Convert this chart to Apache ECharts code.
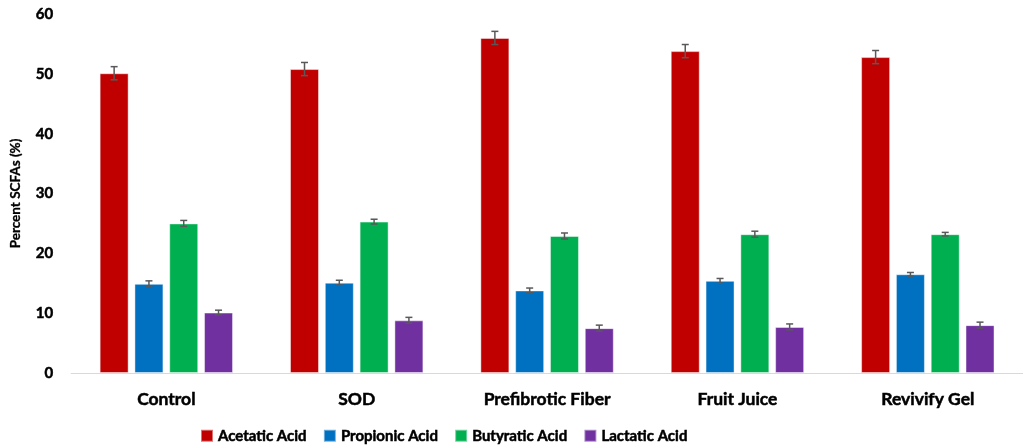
<!DOCTYPE html>
<html>
<head>
<meta charset="utf-8">
<script src="https://cdn.jsdelivr.net/npm/echarts@6/dist/echarts.min.js"></script>
<style>
  html, body { margin: 0; padding: 0; background: #fff; }
  #chart { width: 1023px; height: 445px; }
</style>
</head>
<body>
<div id="chart"></div>
<script>
// Short-chain fatty acid composition per treatment (mean ± error)
const categories = ['Control', 'SOD', 'Prefibrotic Fiber', 'Fruit Juice', 'Revivify Gel'];
const seriesNames = ['Acetatic Acid', 'Propionic Acid', 'Butyratic Acid', 'Lactatic Acid'];

const acetatic   = [50.1, 50.8, 56.0, 53.8, 52.8];
const propionic  = [14.9, 15.1, 13.8, 15.4, 16.5];
const butyratic  = [25.0, 25.3, 22.9, 23.2, 23.2];
const lactatic   = [10.1, 8.8, 7.5, 7.7, 8.0];

const acetaticErr  = [1.1, 1.1, 1.1, 1.1, 1.1];
const propionicErr = [0.5, 0.4, 0.4, 0.4, 0.3];
const butyraticErr = [0.5, 0.4, 0.5, 0.5, 0.3];
const lactaticErr  = [0.4, 0.5, 0.5, 0.5, 0.5];

const yTicks = { min: 0, max: 60, interval: 10 };

const colors = ['#C00000', '#0070C0', '#00B050', '#7030A0'];
const values = [acetatic, propionic, butyratic, lactatic];
const errors = [acetaticErr, propionicErr, butyraticErr, lactaticErr];

const BAR_WIDTH = 29;
const BAR_GAP = '20%';
const FONT = 'Lato, "Open Sans", sans-serif';

// heavy bold text helper
function heavy(size) {
  return {
    fontFamily: FONT, fontSize: size, fontWeight: 'bold', color: '#000',
    textBorderColor: '#000', textBorderWidth: 0.5
  };
}

const chart = echarts.init(document.getElementById('chart'), null, { renderer: 'canvas' });

const barSeries = seriesNames.map((name, k) => ({
  name,
  type: 'bar',
  data: values[k],
  barWidth: BAR_WIDTH,
  barGap: BAR_GAP,
  itemStyle: {
    color: colors[k],
    borderColor: 'rgba(255,255,255,0.45)',
    borderWidth: 1
  },
  emphasis: { disabled: true },
  z: 2
}));

const errorSeries = seriesNames.map((name, k) => ({
  name: name + ' error',
  type: 'custom',
  data: values[k].map((v, i) => [i, v - errors[k][i], v + errors[k][i]]),
  z: 5,
  silent: true,
  renderItem: function (params, api) {
    const i = api.value(0);
    const lo = api.coord([i, api.value(1)]);
    const hi = api.coord([i, api.value(2)]);
    const layout = api.barLayout({ count: seriesNames.length, barWidth: BAR_WIDTH, barGap: BAR_GAP });
    const x = lo[0] + layout[k].offsetCenter;
    const half = 3.5;
    const style = { stroke: '#595959', lineWidth: 1.5 };
    return {
      type: 'group',
      children: [
        { type: 'line', shape: { x1: x, y1: lo[1], x2: x, y2: hi[1] }, style },
        { type: 'line', shape: { x1: x - half, y1: lo[1], x2: x + half, y2: lo[1] }, style },
        { type: 'line', shape: { x1: x - half, y1: hi[1], x2: x + half, y2: hi[1] }, style }
      ]
    };
  }
}));

chart.setOption({
  animation: false,
  backgroundColor: '#ffffff',
  textStyle: { fontFamily: FONT },
  grid: { left: 65, right: -9, top: 14, bottom: 72, containLabel: false },
  legend: {
    data: seriesNames.map((n, k) => ({ name: n, itemStyle: { color: colors[k] } })),
    left: 195,
    top: 423,
    icon: 'rect',
    itemWidth: 12,
    itemHeight: 12,
    itemGap: 16,
    textStyle: heavy(15),
    selectedMode: false
  },
  xAxis: {
    type: 'category',
    data: categories,
    axisLine: { show: true, lineStyle: { color: '#d9d9d9', width: 1 } },
    axisTick: { show: false },
    axisLabel: Object.assign({ margin: 17 }, heavy(17.5)),
    splitLine: { show: false }
  },
  yAxis: {
    type: 'value',
    min: yTicks.min,
    max: yTicks.max,
    interval: yTicks.interval,
    name: 'Percent SCFAs (%)',
    nameLocation: 'middle',
    nameGap: 49,
    nameTextStyle: Object.assign(heavy(13.5), { textBorderWidth: 0.3 }),
    axisLine: { show: false },
    axisTick: { show: false },
    splitLine: { show: false },
    axisLabel: Object.assign({ margin: 18 }, heavy(15))
  },
  series: barSeries.concat(errorSeries)
});
</script>
</body>
</html>
